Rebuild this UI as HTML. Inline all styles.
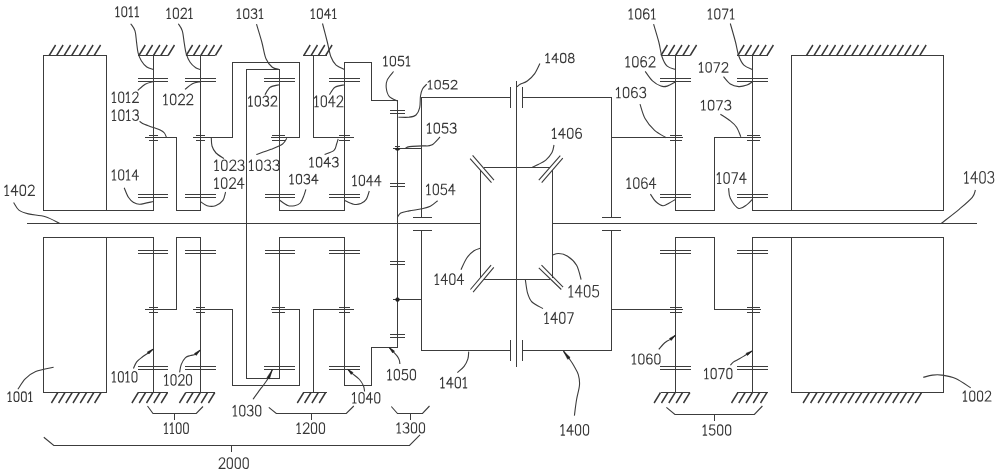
<!DOCTYPE html>
<html lang="en"><head><meta charset="utf-8"><title>Transmission schematic</title><style>
html,body{margin:0;padding:0;background:#fff;font-family:"Liberation Sans",sans-serif;}
svg{display:block;}
.k{fill:none;stroke:#3c3c3c;stroke-width:1;stroke-linecap:square;shape-rendering:crispEdges;}
.d{fill:none;stroke:#3c3c3c;stroke-width:1.1;stroke-linecap:butt;}
.h{fill:none;stroke:#383838;stroke-width:1.45;stroke-linecap:butt;}
.a{fill:#222;stroke:#222;stroke-width:0.6;stroke-linejoin:round;}
.t path{fill:none;stroke:#383838;stroke-width:1.12;vector-effect:non-scaling-stroke;stroke-linecap:round;stroke-linejoin:round;}
</style></head><body>
<svg width="1000" height="476" viewBox="0 0 1000 476">
<path class="k" d="M27.5 223.5H480.5M552.5 223.5H976.5M43.5 55.5H106.5M43.5 55.5V210.5M106.5 55.5V210.5M43.5 210.5H153.5M43.5 392.5H106.5M43.5 237.5V392.5M106.5 237.5V392.5M43.5 237.5H153.5M153.5 55.5V210.5M138.5 78.5H167.5M138.5 81.5H167.5M138.5 194.5H167.5M138.5 197.5H167.5M149.5 135.5H157.5M149.5 140.5H157.5M145.5 137.5H176.5M176.5 137.5V210.5M176.5 210.5H200.5M138.5 55.5H167.5M200.5 55.5V210.5M185.5 78.5H215.5M185.5 81.5H215.5M185.5 194.5H215.5M185.5 197.5H215.5M196.5 135.5H204.5M196.5 140.5H204.5M193.5 137.5H232.5M186.5 55.5H214.5M232.5 62.5V137.5M232.5 62.5H299.5M299.5 62.5V137.5M246.5 69.5H279.5M279.5 69.5V210.5M279.5 210.5H344.5M264.5 78.5H294.5M264.5 81.5H294.5M265.5 194.5H294.5M265.5 197.5H294.5M272.5 135.5H284.5M272.5 140.5H284.5M271.5 137.5H299.5M313.5 55.5V137.5M339.5 135.5H349.5M339.5 140.5H349.5M313.5 137.5H353.5M303.5 55.5H326.5M344.5 62.5V210.5M344.5 62.5H371.5M371.5 62.5V100.5M371.5 100.5H397.5M329.5 78.5H359.5M329.5 81.5H359.5M329.5 194.5H359.5M329.5 197.5H359.5M390.5 110.5H404.5M390.5 113.5H404.5M390.5 183.5H404.5M390.5 186.5H404.5M421.5 97.5H510.5M421.5 97.5V217.5M413.5 217.5H431.5M510.5 87.5V107.5M522.5 87.5V107.5M522.5 97.5H611.5M611.5 97.5V217.5M602.5 217.5H620.5M670.5 135.5H681.5M670.5 140.5H681.5M611.5 137.5H682.5M675.5 55.5V210.5M661.5 55.5H689.5M660.5 78.5H690.5M737.5 78.5H767.5M660.5 81.5H690.5M737.5 81.5H767.5M660.5 194.5H690.5M737.5 194.5H767.5M660.5 197.5H690.5M737.5 197.5H767.5M675.5 210.5H714.5M714.5 137.5V210.5M747.5 135.5H759.5M747.5 140.5H759.5M714.5 137.5H760.5M752.5 55.5V210.5M737.5 55.5H767.5M752.5 210.5H943.5M791.5 55.5V210.5M943.5 55.5V210.5M791.5 55.5H943.5M153.5 237.5V392.5M138.5 366.5H167.5M138.5 369.5H167.5M138.5 250.5H167.5M138.5 253.5H167.5M149.5 307.5H157.5M149.5 312.5H157.5M145.5 309.5H176.5M176.5 237.5V309.5M176.5 237.5H200.5M138.5 392.5H167.5M200.5 237.5V392.5M185.5 366.5H215.5M185.5 369.5H215.5M185.5 250.5H215.5M185.5 253.5H215.5M196.5 307.5H204.5M196.5 312.5H204.5M193.5 309.5H232.5M186.5 392.5H214.5M232.5 309.5V385.5M232.5 385.5H299.5M299.5 309.5V385.5M246.5 378.5H279.5M279.5 237.5V378.5M279.5 237.5H344.5M264.5 366.5H294.5M264.5 369.5H294.5M265.5 250.5H294.5M265.5 253.5H294.5M272.5 307.5H284.5M272.5 312.5H284.5M271.5 309.5H299.5M313.5 309.5V392.5M339.5 307.5H349.5M339.5 312.5H349.5M313.5 309.5H353.5M303.5 392.5H326.5M344.5 237.5V385.5M344.5 385.5H371.5M371.5 347.5V385.5M371.5 347.5H397.5M329.5 366.5H359.5M329.5 369.5H359.5M329.5 250.5H359.5M329.5 253.5H359.5M390.5 334.5H404.5M390.5 337.5H404.5M390.5 261.5H404.5M390.5 264.5H404.5M421.5 350.5H510.5M421.5 230.5V350.5M413.5 230.5H431.5M510.5 340.5V360.5M522.5 340.5V360.5M522.5 350.5H611.5M611.5 230.5V350.5M602.5 230.5H620.5M670.5 307.5H681.5M670.5 312.5H681.5M611.5 309.5H682.5M675.5 237.5V392.5M661.5 392.5H689.5M660.5 366.5H690.5M737.5 366.5H767.5M660.5 369.5H690.5M737.5 369.5H767.5M660.5 250.5H690.5M737.5 250.5H767.5M660.5 253.5H690.5M737.5 253.5H767.5M675.5 237.5H714.5M714.5 237.5V309.5M747.5 307.5H759.5M747.5 312.5H759.5M714.5 309.5H760.5M752.5 237.5V392.5M737.5 392.5H767.5M752.5 237.5H943.5M791.5 237.5V392.5M943.5 237.5V392.5M791.5 392.5H943.5M395.5 146.5H399.5M393.5 148.5H421.5M393.5 299.5H421.5M484.5 167.5H549.5M484.5 279.5H549.5M480.5 170.5V277.5M552.5 170.5V277.5M246.5 69.5V378.5M397.5 100.5V347.5M516.5 81.5V366.5M174.5 413.5V419.5M311.5 413.5V419.5M410.5 413.5V419.5M714.5 414.5V420.5M231.5 445.5V451.5"/>
<path class="d" d="M470.10 158.60L491.50 182.60M472.60 155.30L494.00 180.10M560.30 155.70L538.80 180.10M562.80 158.20L541.70 182.60M470.40 289.50L491.10 265.20M473.10 292.20L493.80 267.40M538.80 267.90L561.30 289.50M541.50 265.20L563.10 287.20M147.50 406.00L153.00 413.50L196.30 413.50L203.00 406.50M268.80 407.30L276.30 413.50L346.30 413.50L353.80 406.00M391.30 406.50L397.50 413.50L422.50 413.50L429.50 406.00M666.40 407.30L674.90 414.50L754.40 414.50L762.40 406.00M43.80 437.30L53.80 445.50L409.50 445.50L420.00 434.80"/>
<path class="h" d="M49.20 55.50L55.60 45.00M56.70 55.50L63.10 45.00M64.20 55.50L70.60 45.00M71.70 55.50L78.10 45.00M79.20 55.50L85.60 45.00M86.70 55.50L93.10 45.00M94.20 55.50L100.60 45.00M51.40 403.00L57.80 392.50M58.60 403.00L65.00 392.50M65.80 403.00L72.20 392.50M73.00 403.00L79.40 392.50M80.20 403.00L86.60 392.50M87.40 403.00L93.80 392.50M94.60 403.00L101.00 392.50M138.90 55.50L145.30 45.00M146.20 55.50L152.60 45.00M153.50 55.50L159.90 45.00M160.80 55.50L167.20 45.00M168.10 55.50L174.50 45.00M186.20 55.50L192.60 45.00M193.50 55.50L199.90 45.00M200.80 55.50L207.20 45.00M208.10 55.50L214.50 45.00M215.40 55.50L221.80 45.00M303.80 55.50L310.20 45.00M311.10 55.50L317.50 45.00M318.40 55.50L324.80 45.00M325.70 55.50L332.10 45.00M661.00 55.50L667.40 45.00M668.30 55.50L674.70 45.00M675.60 55.50L682.00 45.00M682.90 55.50L689.30 45.00M690.20 55.50L696.60 45.00M737.80 55.50L744.20 45.00M745.10 55.50L751.50 45.00M752.40 55.50L758.80 45.00M759.70 55.50L766.10 45.00M767.00 55.50L773.40 45.00M806.50 55.50L812.90 45.00M814.05 55.50L820.45 45.00M821.60 55.50L828.00 45.00M829.15 55.50L835.55 45.00M836.70 55.50L843.10 45.00M844.25 55.50L850.65 45.00M851.80 55.50L858.20 45.00M859.35 55.50L865.75 45.00M866.90 55.50L873.30 45.00M874.45 55.50L880.85 45.00M882.00 55.50L888.40 45.00M889.55 55.50L895.95 45.00M897.10 55.50L903.50 45.00M904.65 55.50L911.05 45.00M912.20 55.50L918.60 45.00M919.75 55.50L926.15 45.00M131.90 403.00L138.30 392.50M139.20 403.00L145.60 392.50M146.50 403.00L152.90 392.50M153.80 403.00L160.20 392.50M161.10 403.00L167.50 392.50M179.40 403.00L185.80 392.50M186.65 403.00L193.05 392.50M193.90 403.00L200.30 392.50M201.15 403.00L207.55 392.50M208.40 403.00L214.80 392.50M297.30 403.00L303.70 392.50M304.60 403.00L311.00 392.50M311.90 403.00L318.30 392.50M319.20 403.00L325.60 392.50M654.10 403.00L660.50 392.50M661.45 403.00L667.85 392.50M668.80 403.00L675.20 392.50M676.15 403.00L682.55 392.50M683.50 403.00L689.90 392.50M731.50 403.00L737.90 392.50M738.75 403.00L745.15 392.50M746.00 403.00L752.40 392.50M753.25 403.00L759.65 392.50M760.50 403.00L766.90 392.50M803.10 403.00L809.50 392.50M810.57 403.00L816.97 392.50M818.04 403.00L824.44 392.50M825.51 403.00L831.91 392.50M832.98 403.00L839.38 392.50M840.45 403.00L846.85 392.50M847.92 403.00L854.32 392.50M855.39 403.00L861.79 392.50M862.86 403.00L869.26 392.50M870.33 403.00L876.73 392.50M877.80 403.00L884.20 392.50M885.27 403.00L891.67 392.50M892.74 403.00L899.14 392.50M900.21 403.00L906.61 392.50M907.68 403.00L914.08 392.50M915.15 403.00L921.55 392.50"/>
<path class="d" d="M130.70 23.70C131.42 24.88 134.02 27.65 135.00 30.80C135.98 33.95 136.08 38.93 136.60 42.60C137.12 46.27 137.32 49.78 138.10 52.80C138.88 55.82 139.85 58.33 141.30 60.70C142.75 63.07 144.83 65.55 146.80 67.00C148.77 68.45 152.05 69.00 153.10 69.40M178.30 23.70C178.97 24.88 181.30 27.52 182.30 30.80C183.30 34.08 183.65 39.60 184.30 43.40C184.95 47.20 185.23 50.45 186.20 53.60C187.17 56.75 188.52 59.93 190.10 62.30C191.68 64.67 194.02 66.62 195.70 67.80C197.38 68.98 199.45 69.13 200.20 69.40M256.50 24.20C257.38 27.17 260.22 36.23 261.80 42.00C263.38 47.77 264.25 54.60 266.00 58.80C267.75 63.00 270.12 65.43 272.30 67.20C274.48 68.97 277.97 69.03 279.10 69.40M322.50 23.50C323.30 26.58 325.90 36.47 327.30 42.00C328.70 47.53 329.43 52.85 330.90 56.70C332.37 60.55 333.82 62.98 336.10 65.10C338.38 67.22 343.18 68.68 344.60 69.40M653.60 24.20C654.47 27.17 657.40 36.58 658.80 42.00C660.20 47.42 660.60 52.67 662.00 56.70C663.40 60.73 664.95 64.08 667.20 66.20C669.45 68.32 674.12 68.87 675.50 69.40M730.30 23.50C731.17 26.58 734.10 36.63 735.50 42.00C736.90 47.37 737.30 51.85 738.70 55.70C740.10 59.55 741.63 62.82 743.90 65.10C746.17 67.38 750.90 68.68 752.30 69.40M137.80 90.50C139.03 89.45 142.62 85.68 145.20 84.20C147.78 82.72 151.95 82.03 153.30 81.60M185.00 89.40C186.23 88.45 189.87 85.00 192.40 83.70C194.93 82.40 198.90 81.95 200.20 81.60M265.00 94.70C265.87 93.47 267.85 88.95 270.20 87.30C272.55 85.65 277.62 85.22 279.10 84.80M329.40 94.70C330.33 93.47 332.47 88.95 335.00 87.30C337.53 85.65 343.00 85.22 344.60 84.80M139.60 121.30C140.10 121.65 141.27 122.70 142.60 123.40C143.93 124.10 145.78 124.80 147.60 125.50C149.42 126.20 151.40 126.83 153.50 127.60C155.60 128.37 158.38 129.20 160.20 130.10C162.02 131.00 163.35 131.75 164.40 133.00C165.45 134.25 166.15 136.83 166.50 137.60M211.30 137.70C211.42 139.08 211.22 143.45 212.00 146.00C212.78 148.55 214.00 150.92 216.00 153.00C218.00 155.08 222.67 157.58 224.00 158.50M256.30 154.50C258.75 153.63 266.62 151.05 271.00 149.30C275.38 147.55 279.97 145.85 282.60 144.00C285.23 142.15 286.10 139.17 286.80 138.20M324.60 154.50C326.17 153.80 332.00 152.05 334.00 150.30C336.00 148.55 335.90 145.92 336.60 144.00C337.30 142.08 337.93 139.67 338.20 138.80M124.20 187.80C124.90 189.38 126.83 194.85 128.40 197.30C129.97 199.75 131.68 201.35 133.60 202.50C135.52 203.65 136.62 204.37 139.90 204.20C143.18 204.03 151.07 201.95 153.30 201.50M225.60 192.00C225.15 193.40 224.58 198.12 222.90 200.40C221.22 202.68 218.13 204.82 215.50 205.70C212.87 206.58 209.65 206.40 207.10 205.70C204.55 205.00 201.35 202.20 200.20 201.50M305.90 189.30C305.58 190.32 304.93 193.12 304.00 195.40C303.07 197.68 301.87 201.28 300.30 203.00C298.73 204.72 296.70 205.28 294.60 205.70C292.50 206.12 290.28 206.48 287.70 205.50C285.12 204.52 280.53 200.75 279.10 199.80M369.30 191.00C368.78 192.40 367.60 197.30 366.20 199.40C364.80 201.50 363.00 202.80 360.90 203.60C358.80 204.40 356.32 204.73 353.60 204.20C350.88 203.67 346.10 201.03 344.60 200.40M393.60 71.50C392.55 72.90 388.52 77.10 387.30 79.90C386.08 82.70 385.95 85.50 386.30 88.30C386.65 91.10 387.53 94.60 389.40 96.70C391.27 98.80 396.15 100.20 397.50 100.90M426.80 84.10C426.08 84.92 423.55 87.02 422.50 89.00C421.45 90.98 420.97 92.90 420.50 96.00C420.03 99.10 420.45 104.43 419.70 107.60C418.95 110.77 417.78 113.40 416.00 115.00C414.22 116.60 411.93 116.83 409.00 117.20C406.07 117.57 400.17 117.20 398.40 117.20M440.00 137.00C438.58 138.35 434.40 143.62 431.50 145.10C428.60 146.58 426.28 145.65 422.60 145.90C418.92 146.15 412.33 146.17 409.40 146.60C406.47 147.03 405.73 148.18 405.00 148.50M437.60 200.80C436.38 201.72 432.93 204.97 430.30 206.30C427.67 207.63 425.32 208.03 421.80 208.80C418.28 209.57 412.70 210.20 409.20 210.90C405.70 211.60 402.72 212.02 400.80 213.00C398.88 213.98 398.22 216.17 397.70 216.80M539.90 63.50C539.03 65.18 536.80 70.68 534.70 73.60C532.60 76.52 529.72 79.23 527.30 81.00C524.88 82.77 521.92 83.23 520.20 84.20C518.48 85.17 517.53 86.37 517.00 86.80M554.00 145.00C553.67 146.27 553.37 150.08 552.00 152.60C550.63 155.12 548.10 158.12 545.80 160.10C543.50 162.08 540.52 163.28 538.20 164.50C535.88 165.72 532.95 166.92 531.90 167.40M645.20 71.40C646.42 72.98 649.88 78.45 652.50 80.90C655.12 83.35 658.45 85.23 660.90 86.10C663.35 86.97 664.77 86.80 667.20 86.10C669.63 85.40 674.12 82.60 675.50 81.90M723.50 76.70C724.63 77.92 727.77 82.35 730.30 84.00C732.83 85.65 735.92 86.42 738.70 86.60C741.48 86.78 744.73 85.88 747.00 85.10C749.27 84.32 751.42 82.43 752.30 81.90M640.00 104.10C640.87 106.55 642.77 114.42 645.20 118.80C647.63 123.18 651.10 127.25 654.60 130.40C658.10 133.55 664.27 136.48 666.20 137.70M720.40 114.20C722.05 115.32 727.60 118.73 730.30 120.90C733.00 123.07 734.85 124.57 736.60 127.20C738.35 129.83 740.10 135.12 740.80 136.70M650.40 194.10C651.28 195.33 653.60 199.57 655.70 201.50C657.80 203.43 660.73 205.47 663.00 205.70C665.27 205.93 667.22 203.95 669.30 202.90C671.38 201.85 674.47 199.98 675.50 199.40M728.60 188.20C728.88 189.88 728.62 194.93 730.30 198.30C731.98 201.67 735.92 207.35 738.70 208.40C741.48 209.45 744.73 206.10 747.00 204.60C749.27 203.10 751.42 200.27 752.30 199.40M975.40 190.00C974.88 191.22 974.92 194.17 972.30 197.30C969.68 200.43 964.88 204.43 959.70 208.80C954.52 213.17 944.28 221.05 941.20 223.50M13.60 202.50C14.48 203.77 16.43 208.20 18.90 210.10C21.37 212.00 23.98 212.80 28.40 213.90C32.82 215.00 40.22 215.13 45.40 216.70C50.58 218.27 57.15 222.20 59.50 223.30M461.00 269.70C461.97 267.75 464.63 261.15 466.80 258.00C468.97 254.85 471.67 252.45 474.00 250.80C476.33 249.15 479.67 248.55 480.80 248.10M581.10 279.60C580.35 277.20 578.85 269.10 576.60 265.20C574.35 261.30 570.60 258.15 567.60 256.20C564.60 254.25 561.17 253.65 558.60 253.50C556.03 253.35 553.27 255.00 552.20 255.30M525.40 280.00C525.77 282.20 526.50 289.53 527.60 293.20C528.70 296.87 529.43 299.43 532.00 302.00C534.57 304.57 541.17 307.50 543.00 308.60M468.70 351.60C468.57 352.82 468.67 356.45 467.90 358.90C467.13 361.35 465.85 364.02 464.10 366.30C462.35 368.58 458.52 371.55 457.40 372.60M574.40 415.60C574.75 413.00 575.65 405.10 576.50 400.00C577.35 394.90 579.20 389.23 579.50 385.00C579.80 380.77 579.22 377.77 578.30 374.60C577.38 371.43 575.38 368.47 574.00 366.00C572.62 363.53 571.75 362.27 570.00 359.80C568.25 357.33 564.58 352.63 563.50 351.20M17.90 389.30C19.12 387.55 22.23 381.77 25.20 378.80C28.17 375.83 30.97 373.42 35.70 371.50C40.43 369.58 50.62 368.00 53.60 367.30M133.40 368.60C133.95 367.47 135.17 363.77 136.70 361.80C138.23 359.83 140.70 358.27 142.60 356.80C144.50 355.33 146.32 354.28 148.10 353.00C149.88 351.72 152.43 349.75 153.30 349.10M179.60 372.40C179.88 371.07 180.32 366.87 181.30 364.40C182.28 361.93 183.97 359.08 185.50 357.60C187.03 356.12 188.83 356.05 190.50 355.50C192.17 354.95 193.88 355.20 195.50 354.30C197.12 353.40 199.42 350.80 200.20 350.10M253.00 399.30C254.17 397.68 258.30 391.90 260.00 389.60C261.70 387.30 261.83 387.38 263.20 385.50C264.57 383.62 266.68 380.93 268.20 378.30C269.72 375.67 271.62 371.13 272.30 369.70M364.60 391.50C364.42 390.58 364.35 388.00 363.50 386.00C362.65 384.00 361.42 381.60 359.50 379.50C357.58 377.40 353.95 375.10 352.00 373.40C350.05 371.70 348.50 369.98 347.80 369.30M399.90 364.00C399.80 363.37 399.72 361.47 399.30 360.20C398.88 358.93 398.35 357.77 397.40 356.40C396.45 355.03 394.97 353.47 393.60 352.00C392.23 350.53 389.93 348.33 389.20 347.60M658.80 349.30C659.50 348.50 661.72 345.80 663.00 344.50C664.28 343.20 665.27 342.35 666.50 341.50C667.73 340.65 668.90 340.45 670.40 339.40C671.90 338.35 674.65 335.90 675.50 335.20M730.30 365.20C730.85 364.65 732.32 362.85 733.60 361.90C734.88 360.95 736.35 360.42 738.00 359.50C739.65 358.58 741.85 357.37 743.50 356.40C745.15 355.43 746.43 354.62 747.90 353.70C749.37 352.78 751.57 351.37 752.30 350.90M923.30 377.40C924.83 377.02 929.42 375.48 932.50 375.10C935.58 374.72 937.95 374.53 941.80 375.10C945.65 375.67 950.78 376.38 955.60 378.50C960.42 380.62 968.18 386.25 970.70 387.80"/>
<path class="a" d="M395.3 149.2a2.2 1.1 0 1 0 4.4 0a2.2 1.1 0 1 0 -4.4 0ZM395.6 299.6a1.9 1.9 0 1 0 3.8 0a1.9 1.9 0 1 0 -3.8 0ZM563.50 351.20L570.12 357.48L567.73 359.28ZM153.30 349.10L148.88 354.04L147.32 351.96ZM200.20 350.10L196.22 355.40L194.49 353.46ZM272.30 369.70L269.48 378.88L266.95 377.67ZM347.80 369.30L353.00 372.56L351.19 374.42ZM389.20 347.60L394.50 351.06L392.66 352.90ZM675.50 335.20L671.15 340.46L669.50 338.46ZM752.30 350.90L747.51 355.49L746.12 353.29Z"/>
<g class="t">
<g role="img" aria-label="1011" transform="translate(114.60,6.75) scale(0.9225,0.9000)"><title>1011</title><path transform="translate(-0.25,0)" d="M1.4,2.3 L3.5,0 L3.5,11 M1.8,11 L5.2,11"/><path transform="translate(7.00,0)" d="M0.9,3.2 C0.9,1.2 2,0 3.5,0 C5,0 6.1,1.2 6.1,3.2 L6.1,7.8 C6.1,9.8 5,11 3.5,11 C2,11 0.9,9.8 0.9,7.8 Z"/><path transform="translate(14.25,0)" d="M1.4,2.3 L3.5,0 L3.5,11 M1.8,11 L5.2,11"/><path transform="translate(20.75,0)" d="M1.4,2.3 L3.5,0 L3.5,11 M1.8,11 L5.2,11"/></g>
<g role="img" aria-label="1021" transform="translate(165.67,8.17) scale(0.9707,0.9333)"><title>1021</title><path transform="translate(-0.25,0)" d="M1.4,2.3 L3.5,0 L3.5,11 M1.8,11 L5.2,11"/><path transform="translate(7.00,0)" d="M0.9,3.2 C0.9,1.2 2,0 3.5,0 C5,0 6.1,1.2 6.1,3.2 L6.1,7.8 C6.1,9.8 5,11 3.5,11 C2,11 0.9,9.8 0.9,7.8 Z"/><path transform="translate(15.00,0)" d="M0.8,2.3 C1.3,0.8 2.3,0 3.6,0 C5.2,0 6.3,1.1 6.3,2.8 C6.3,4.2 5.6,5.2 4.5,6.3 L0.6,10.9 L6.7,10.9"/><path transform="translate(22.25,0)" d="M1.4,2.3 L3.5,0 L3.5,11 M1.8,11 L5.2,11"/></g>
<g role="img" aria-label="1031" transform="translate(235.86,8.84) scale(0.9853,0.8750)"><title>1031</title><path transform="translate(-0.25,0)" d="M1.4,2.3 L3.5,0 L3.5,11 M1.8,11 L5.2,11"/><path transform="translate(7.00,0)" d="M0.9,3.2 C0.9,1.2 2,0 3.5,0 C5,0 6.1,1.2 6.1,3.2 L6.1,7.8 C6.1,9.8 5,11 3.5,11 C2,11 0.9,9.8 0.9,7.8 Z"/><path transform="translate(15.00,0)" d="M0.8,1.8 C1.4,0.6 2.4,0 3.5,0 C5,0 6,1 6,2.6 C6,4.2 4.9,5.2 3.2,5.2 M3.2,5.2 C5.1,5.2 6.3,6.3 6.3,8 C6.3,9.9 5.1,11 3.4,11 C2.1,11 1,10.4 0.5,9.2"/><path transform="translate(22.25,0)" d="M1.4,2.3 L3.5,0 L3.5,11 M1.8,11 L5.2,11"/></g>
<g role="img" aria-label="1041" transform="translate(309.88,8.84) scale(0.9560,0.8750)"><title>1041</title><path transform="translate(-0.25,0)" d="M1.4,2.3 L3.5,0 L3.5,11 M1.8,11 L5.2,11"/><path transform="translate(7.00,0)" d="M0.9,3.2 C0.9,1.2 2,0 3.5,0 C5,0 6.1,1.2 6.1,3.2 L6.1,7.8 C6.1,9.8 5,11 3.5,11 C2,11 0.9,9.8 0.9,7.8 Z"/><path transform="translate(15.00,0)" d="M4.6,11 L4.6,0 L0.3,6.9 L6.7,6.9"/><path transform="translate(22.25,0)" d="M1.4,2.3 L3.5,0 L3.5,11 M1.8,11 L5.2,11"/></g>
<g role="img" aria-label="1061" transform="translate(627.75,8.86) scale(1.0000,0.9250)"><title>1061</title><path transform="translate(-0.25,0)" d="M1.4,2.3 L3.5,0 L3.5,11 M1.8,11 L5.2,11"/><path transform="translate(7.00,0)" d="M0.9,3.2 C0.9,1.2 2,0 3.5,0 C5,0 6.1,1.2 6.1,3.2 L6.1,7.8 C6.1,9.8 5,11 3.5,11 C2,11 0.9,9.8 0.9,7.8 Z"/><path transform="translate(15.00,0)" d="M5.8,1.5 C5.3,0.5 4.5,0 3.6,0 C1.8,0 0.8,2.3 0.8,5.8 C0.8,9.2 1.9,11 3.6,11 C5.3,11 6.3,9.6 6.3,7.6 C6.3,5.6 5.2,4.4 3.6,4.4 C2.2,4.4 1.2,5.3 0.8,6.6"/><path transform="translate(22.25,0)" d="M1.4,2.3 L3.5,0 L3.5,11 M1.8,11 L5.2,11"/></g>
<g role="img" aria-label="1071" transform="translate(706.96,8.86) scale(0.9853,0.9250)"><title>1071</title><path transform="translate(-0.25,0)" d="M1.4,2.3 L3.5,0 L3.5,11 M1.8,11 L5.2,11"/><path transform="translate(7.00,0)" d="M0.9,3.2 C0.9,1.2 2,0 3.5,0 C5,0 6.1,1.2 6.1,3.2 L6.1,7.8 C6.1,9.8 5,11 3.5,11 C2,11 0.9,9.8 0.9,7.8 Z"/><path transform="translate(15.00,0)" d="M0.7,0.3 L6.3,0.3 L2.3,11"/><path transform="translate(22.25,0)" d="M1.4,2.3 L3.5,0 L3.5,11 M1.8,11 L5.2,11"/></g>
<g role="img" aria-label="1051" transform="translate(382.35,56.24) scale(1.0037,0.8750)"><title>1051</title><path transform="translate(-0.25,0)" d="M1.4,2.3 L3.5,0 L3.5,11 M1.8,11 L5.2,11"/><path transform="translate(7.00,0)" d="M0.9,3.2 C0.9,1.2 2,0 3.5,0 C5,0 6.1,1.2 6.1,3.2 L6.1,7.8 C6.1,9.8 5,11 3.5,11 C2,11 0.9,9.8 0.9,7.8 Z"/><path transform="translate(15.00,0)" d="M6,0.2 L1.5,0.2 L1,5 C1.7,4.4 2.6,4.1 3.5,4.1 C5.2,4.1 6.3,5.4 6.3,7.5 C6.3,9.7 5.1,11 3.4,11 C2.1,11 1.1,10.4 0.6,9.3"/><path transform="translate(22.25,0)" d="M1.4,2.3 L3.5,0 L3.5,11 M1.8,11 L5.2,11"/></g>
<g role="img" aria-label="1052" transform="translate(426.94,80.39) scale(1.0186,0.7833)"><title>1052</title><path transform="translate(-0.25,0)" d="M1.4,2.3 L3.5,0 L3.5,11 M1.8,11 L5.2,11"/><path transform="translate(7.00,0)" d="M0.9,3.2 C0.9,1.2 2,0 3.5,0 C5,0 6.1,1.2 6.1,3.2 L6.1,7.8 C6.1,9.8 5,11 3.5,11 C2,11 0.9,9.8 0.9,7.8 Z"/><path transform="translate(15.00,0)" d="M6,0.2 L1.5,0.2 L1,5 C1.7,4.4 2.6,4.1 3.5,4.1 C5.2,4.1 6.3,5.4 6.3,7.5 C6.3,9.7 5.1,11 3.4,11 C2.1,11 1.1,10.4 0.6,9.3"/><path transform="translate(23.00,0)" d="M0.8,2.3 C1.3,0.8 2.3,0 3.6,0 C5.2,0 6.3,1.1 6.3,2.8 C6.3,4.2 5.6,5.2 4.5,6.3 L0.6,10.9 L6.7,10.9"/></g>
<g role="img" aria-label="1408" transform="translate(544.54,53.42) scale(1.0086,0.8417)"><title>1408</title><path transform="translate(-0.25,0)" d="M1.4,2.3 L3.5,0 L3.5,11 M1.8,11 L5.2,11"/><path transform="translate(7.00,0)" d="M4.6,11 L4.6,0 L0.3,6.9 L6.7,6.9"/><path transform="translate(15.00,0)" d="M0.9,3.2 C0.9,1.2 2,0 3.5,0 C5,0 6.1,1.2 6.1,3.2 L6.1,7.8 C6.1,9.8 5,11 3.5,11 C2,11 0.9,9.8 0.9,7.8 Z"/><path transform="translate(23.00,0)" d="M3.5,0 C2,0 1.1,1.1 1.1,2.6 C1.1,4.1 2.1,5.2 3.5,5.2 C4.9,5.2 5.9,4.1 5.9,2.6 C5.9,1.1 5,0 3.5,0 Z M3.5,5.2 C1.8,5.2 0.7,6.4 0.7,8.1 C0.7,9.8 1.8,11 3.5,11 C5.2,11 6.3,9.8 6.3,8.1 C6.3,6.4 5.2,5.2 3.5,5.2 Z"/></g>
<g role="img" aria-label="1062" transform="translate(624.53,56.48) scale(1.0321,0.9500)"><title>1062</title><path transform="translate(-0.25,0)" d="M1.4,2.3 L3.5,0 L3.5,11 M1.8,11 L5.2,11"/><path transform="translate(7.00,0)" d="M0.9,3.2 C0.9,1.2 2,0 3.5,0 C5,0 6.1,1.2 6.1,3.2 L6.1,7.8 C6.1,9.8 5,11 3.5,11 C2,11 0.9,9.8 0.9,7.8 Z"/><path transform="translate(15.00,0)" d="M5.8,1.5 C5.3,0.5 4.5,0 3.6,0 C1.8,0 0.8,2.3 0.8,5.8 C0.8,9.2 1.9,11 3.6,11 C5.3,11 6.3,9.6 6.3,7.6 C6.3,5.6 5.2,4.4 3.6,4.4 C2.2,4.4 1.2,5.3 0.8,6.6"/><path transform="translate(23.00,0)" d="M0.8,2.3 C1.3,0.8 2.3,0 3.6,0 C5.2,0 6.3,1.1 6.3,2.8 C6.3,4.2 5.6,5.2 4.5,6.3 L0.6,10.9 L6.7,10.9"/></g>
<g role="img" aria-label="1072" transform="translate(698.04,62.44) scale(1.0118,0.8833)"><title>1072</title><path transform="translate(-0.25,0)" d="M1.4,2.3 L3.5,0 L3.5,11 M1.8,11 L5.2,11"/><path transform="translate(7.00,0)" d="M0.9,3.2 C0.9,1.2 2,0 3.5,0 C5,0 6.1,1.2 6.1,3.2 L6.1,7.8 C6.1,9.8 5,11 3.5,11 C2,11 0.9,9.8 0.9,7.8 Z"/><path transform="translate(15.00,0)" d="M0.7,0.3 L6.3,0.3 L2.3,11"/><path transform="translate(23.00,0)" d="M0.8,2.3 C1.3,0.8 2.3,0 3.6,0 C5.2,0 6.3,1.1 6.3,2.8 C6.3,4.2 5.6,5.2 4.5,6.3 L0.6,10.9 L6.7,10.9"/></g>
<g role="img" aria-label="1063" transform="translate(615.12,87.37) scale(1.0429,0.9417)"><title>1063</title><path transform="translate(-0.25,0)" d="M1.4,2.3 L3.5,0 L3.5,11 M1.8,11 L5.2,11"/><path transform="translate(7.00,0)" d="M0.9,3.2 C0.9,1.2 2,0 3.5,0 C5,0 6.1,1.2 6.1,3.2 L6.1,7.8 C6.1,9.8 5,11 3.5,11 C2,11 0.9,9.8 0.9,7.8 Z"/><path transform="translate(15.00,0)" d="M5.8,1.5 C5.3,0.5 4.5,0 3.6,0 C1.8,0 0.8,2.3 0.8,5.8 C0.8,9.2 1.9,11 3.6,11 C5.3,11 6.3,9.6 6.3,7.6 C6.3,5.6 5.2,4.4 3.6,4.4 C2.2,4.4 1.2,5.3 0.8,6.6"/><path transform="translate(23.00,0)" d="M0.8,1.8 C1.4,0.6 2.4,0 3.5,0 C5,0 6,1 6,2.6 C6,4.2 4.9,5.2 3.2,5.2 M3.2,5.2 C5.1,5.2 6.3,6.3 6.3,8 C6.3,9.9 5.1,11 3.4,11 C2.1,11 1,10.4 0.5,9.2"/></g>
<g role="img" aria-label="1073" transform="translate(700.12,100.43) scale(1.0463,0.8667)"><title>1073</title><path transform="translate(-0.25,0)" d="M1.4,2.3 L3.5,0 L3.5,11 M1.8,11 L5.2,11"/><path transform="translate(7.00,0)" d="M0.9,3.2 C0.9,1.2 2,0 3.5,0 C5,0 6.1,1.2 6.1,3.2 L6.1,7.8 C6.1,9.8 5,11 3.5,11 C2,11 0.9,9.8 0.9,7.8 Z"/><path transform="translate(15.00,0)" d="M0.7,0.3 L6.3,0.3 L2.3,11"/><path transform="translate(23.00,0)" d="M0.8,1.8 C1.4,0.6 2.4,0 3.5,0 C5,0 6,1 6,2.6 C6,4.2 4.9,5.2 3.2,5.2 M3.2,5.2 C5.1,5.2 6.3,6.3 6.3,8 C6.3,9.9 5.1,11 3.4,11 C2.1,11 1,10.4 0.5,9.2"/></g>
<g role="img" aria-label="1012" transform="translate(110.97,91.98) scale(0.9733,0.9583)"><title>1012</title><path transform="translate(-0.25,0)" d="M1.4,2.3 L3.5,0 L3.5,11 M1.8,11 L5.2,11"/><path transform="translate(7.00,0)" d="M0.9,3.2 C0.9,1.2 2,0 3.5,0 C5,0 6.1,1.2 6.1,3.2 L6.1,7.8 C6.1,9.8 5,11 3.5,11 C2,11 0.9,9.8 0.9,7.8 Z"/><path transform="translate(14.25,0)" d="M1.4,2.3 L3.5,0 L3.5,11 M1.8,11 L5.2,11"/><path transform="translate(21.50,0)" d="M0.8,2.3 C1.3,0.8 2.3,0 3.6,0 C5.2,0 6.3,1.1 6.3,2.8 C6.3,4.2 5.6,5.2 4.5,6.3 L0.6,10.9 L6.7,10.9"/></g>
<g role="img" aria-label="1013" transform="translate(110.96,109.88) scale(0.9873,0.9667)"><title>1013</title><path transform="translate(-0.25,0)" d="M1.4,2.3 L3.5,0 L3.5,11 M1.8,11 L5.2,11"/><path transform="translate(7.00,0)" d="M0.9,3.2 C0.9,1.2 2,0 3.5,0 C5,0 6.1,1.2 6.1,3.2 L6.1,7.8 C6.1,9.8 5,11 3.5,11 C2,11 0.9,9.8 0.9,7.8 Z"/><path transform="translate(14.25,0)" d="M1.4,2.3 L3.5,0 L3.5,11 M1.8,11 L5.2,11"/><path transform="translate(21.50,0)" d="M0.8,1.8 C1.4,0.6 2.4,0 3.5,0 C5,0 6,1 6,2.6 C6,4.2 4.9,5.2 3.2,5.2 M3.2,5.2 C5.1,5.2 6.3,6.3 6.3,8 C6.3,9.9 5.1,11 3.4,11 C2.1,11 1,10.4 0.5,9.2"/></g>
<g role="img" aria-label="1022" transform="translate(162.33,94.08) scale(1.0321,0.9667)"><title>1022</title><path transform="translate(-0.25,0)" d="M1.4,2.3 L3.5,0 L3.5,11 M1.8,11 L5.2,11"/><path transform="translate(7.00,0)" d="M0.9,3.2 C0.9,1.2 2,0 3.5,0 C5,0 6.1,1.2 6.1,3.2 L6.1,7.8 C6.1,9.8 5,11 3.5,11 C2,11 0.9,9.8 0.9,7.8 Z"/><path transform="translate(15.00,0)" d="M0.8,2.3 C1.3,0.8 2.3,0 3.6,0 C5.2,0 6.3,1.1 6.3,2.8 C6.3,4.2 5.6,5.2 4.5,6.3 L0.6,10.9 L6.7,10.9"/><path transform="translate(23.00,0)" d="M0.8,2.3 C1.3,0.8 2.3,0 3.6,0 C5.2,0 6.3,1.1 6.3,2.8 C6.3,4.2 5.6,5.2 4.5,6.3 L0.6,10.9 L6.7,10.9"/></g>
<g role="img" aria-label="1032" transform="translate(247.35,96.15) scale(0.9983,0.9083)"><title>1032</title><path transform="translate(-0.25,0)" d="M1.4,2.3 L3.5,0 L3.5,11 M1.8,11 L5.2,11"/><path transform="translate(7.00,0)" d="M0.9,3.2 C0.9,1.2 2,0 3.5,0 C5,0 6.1,1.2 6.1,3.2 L6.1,7.8 C6.1,9.8 5,11 3.5,11 C2,11 0.9,9.8 0.9,7.8 Z"/><path transform="translate(15.00,0)" d="M0.8,1.8 C1.4,0.6 2.4,0 3.5,0 C5,0 6,1 6,2.6 C6,4.2 4.9,5.2 3.2,5.2 M3.2,5.2 C5.1,5.2 6.3,6.3 6.3,8 C6.3,9.9 5.1,11 3.4,11 C2.1,11 1,10.4 0.5,9.2"/><path transform="translate(23.00,0)" d="M0.8,2.3 C1.3,0.8 2.3,0 3.6,0 C5.2,0 6.3,1.1 6.3,2.8 C6.3,4.2 5.6,5.2 4.5,6.3 L0.6,10.9 L6.7,10.9"/></g>
<g role="img" aria-label="1042" transform="translate(313.35,95.80) scale(0.9983,1.0000)"><title>1042</title><path transform="translate(-0.25,0)" d="M1.4,2.3 L3.5,0 L3.5,11 M1.8,11 L5.2,11"/><path transform="translate(7.00,0)" d="M0.9,3.2 C0.9,1.2 2,0 3.5,0 C5,0 6.1,1.2 6.1,3.2 L6.1,7.8 C6.1,9.8 5,11 3.5,11 C2,11 0.9,9.8 0.9,7.8 Z"/><path transform="translate(15.00,0)" d="M4.6,11 L4.6,0 L0.3,6.9 L6.7,6.9"/><path transform="translate(23.00,0)" d="M0.8,2.3 C1.3,0.8 2.3,0 3.6,0 C5.2,0 6.3,1.1 6.3,2.8 C6.3,4.2 5.6,5.2 4.5,6.3 L0.6,10.9 L6.7,10.9"/></g>
<g role="img" aria-label="1053" transform="translate(426.03,123.15) scale(1.0257,0.9083)"><title>1053</title><path transform="translate(-0.25,0)" d="M1.4,2.3 L3.5,0 L3.5,11 M1.8,11 L5.2,11"/><path transform="translate(7.00,0)" d="M0.9,3.2 C0.9,1.2 2,0 3.5,0 C5,0 6.1,1.2 6.1,3.2 L6.1,7.8 C6.1,9.8 5,11 3.5,11 C2,11 0.9,9.8 0.9,7.8 Z"/><path transform="translate(15.00,0)" d="M6,0.2 L1.5,0.2 L1,5 C1.7,4.4 2.6,4.1 3.5,4.1 C5.2,4.1 6.3,5.4 6.3,7.5 C6.3,9.7 5.1,11 3.4,11 C2.1,11 1.1,10.4 0.6,9.3"/><path transform="translate(23.00,0)" d="M0.8,1.8 C1.4,0.6 2.4,0 3.5,0 C5,0 6,1 6,2.6 C6,4.2 4.9,5.2 3.2,5.2 M3.2,5.2 C5.1,5.2 6.3,6.3 6.3,8 C6.3,9.9 5.1,11 3.4,11 C2.1,11 1,10.4 0.5,9.2"/></g>
<g role="img" aria-label="1406" transform="translate(551.02,128.26) scale(1.0395,0.9167)"><title>1406</title><path transform="translate(-0.25,0)" d="M1.4,2.3 L3.5,0 L3.5,11 M1.8,11 L5.2,11"/><path transform="translate(7.00,0)" d="M4.6,11 L4.6,0 L0.3,6.9 L6.7,6.9"/><path transform="translate(15.00,0)" d="M0.9,3.2 C0.9,1.2 2,0 3.5,0 C5,0 6.1,1.2 6.1,3.2 L6.1,7.8 C6.1,9.8 5,11 3.5,11 C2,11 0.9,9.8 0.9,7.8 Z"/><path transform="translate(23.00,0)" d="M5.8,1.5 C5.3,0.5 4.5,0 3.6,0 C1.8,0 0.8,2.3 0.8,5.8 C0.8,9.2 1.9,11 3.6,11 C5.3,11 6.3,9.6 6.3,7.6 C6.3,5.6 5.2,4.4 3.6,4.4 C2.2,4.4 1.2,5.3 0.8,6.6"/></g>
<g role="img" aria-label="1023" transform="translate(213.32,159.98) scale(1.0463,0.9583)"><title>1023</title><path transform="translate(-0.25,0)" d="M1.4,2.3 L3.5,0 L3.5,11 M1.8,11 L5.2,11"/><path transform="translate(7.00,0)" d="M0.9,3.2 C0.9,1.2 2,0 3.5,0 C5,0 6.1,1.2 6.1,3.2 L6.1,7.8 C6.1,9.8 5,11 3.5,11 C2,11 0.9,9.8 0.9,7.8 Z"/><path transform="translate(15.00,0)" d="M0.8,2.3 C1.3,0.8 2.3,0 3.6,0 C5.2,0 6.3,1.1 6.3,2.8 C6.3,4.2 5.6,5.2 4.5,6.3 L0.6,10.9 L6.7,10.9"/><path transform="translate(23.00,0)" d="M0.8,1.8 C1.4,0.6 2.4,0 3.5,0 C5,0 6,1 6,2.6 C6,4.2 4.9,5.2 3.2,5.2 M3.2,5.2 C5.1,5.2 6.3,6.3 6.3,8 C6.3,9.9 5.1,11 3.4,11 C2.1,11 1,10.4 0.5,9.2"/></g>
<g role="img" aria-label="1033" transform="translate(248.01,159.98) scale(1.0600,0.9583)"><title>1033</title><path transform="translate(-0.25,0)" d="M1.4,2.3 L3.5,0 L3.5,11 M1.8,11 L5.2,11"/><path transform="translate(7.00,0)" d="M0.9,3.2 C0.9,1.2 2,0 3.5,0 C5,0 6.1,1.2 6.1,3.2 L6.1,7.8 C6.1,9.8 5,11 3.5,11 C2,11 0.9,9.8 0.9,7.8 Z"/><path transform="translate(15.00,0)" d="M0.8,1.8 C1.4,0.6 2.4,0 3.5,0 C5,0 6,1 6,2.6 C6,4.2 4.9,5.2 3.2,5.2 M3.2,5.2 C5.1,5.2 6.3,6.3 6.3,8 C6.3,9.9 5.1,11 3.4,11 C2.1,11 1,10.4 0.5,9.2"/><path transform="translate(23.00,0)" d="M0.8,1.8 C1.4,0.6 2.4,0 3.5,0 C5,0 6,1 6,2.6 C6,4.2 4.9,5.2 3.2,5.2 M3.2,5.2 C5.1,5.2 6.3,6.3 6.3,8 C6.3,9.9 5.1,11 3.4,11 C2.1,11 1,10.4 0.5,9.2"/></g>
<g role="img" aria-label="1043" transform="translate(308.44,157.34) scale(1.0154,0.8750)"><title>1043</title><path transform="translate(-0.25,0)" d="M1.4,2.3 L3.5,0 L3.5,11 M1.8,11 L5.2,11"/><path transform="translate(7.00,0)" d="M0.9,3.2 C0.9,1.2 2,0 3.5,0 C5,0 6.1,1.2 6.1,3.2 L6.1,7.8 C6.1,9.8 5,11 3.5,11 C2,11 0.9,9.8 0.9,7.8 Z"/><path transform="translate(15.00,0)" d="M4.6,11 L4.6,0 L0.3,6.9 L6.7,6.9"/><path transform="translate(23.00,0)" d="M0.8,1.8 C1.4,0.6 2.4,0 3.5,0 C5,0 6,1 6,2.6 C6,4.2 4.9,5.2 3.2,5.2 M3.2,5.2 C5.1,5.2 6.3,6.3 6.3,8 C6.3,9.9 5.1,11 3.4,11 C2.1,11 1,10.4 0.5,9.2"/></g>
<g role="img" aria-label="1014" transform="translate(110.97,169.77) scale(0.9733,0.9333)"><title>1014</title><path transform="translate(-0.25,0)" d="M1.4,2.3 L3.5,0 L3.5,11 M1.8,11 L5.2,11"/><path transform="translate(7.00,0)" d="M0.9,3.2 C0.9,1.2 2,0 3.5,0 C5,0 6.1,1.2 6.1,3.2 L6.1,7.8 C6.1,9.8 5,11 3.5,11 C2,11 0.9,9.8 0.9,7.8 Z"/><path transform="translate(14.25,0)" d="M1.4,2.3 L3.5,0 L3.5,11 M1.8,11 L5.2,11"/><path transform="translate(21.50,0)" d="M4.6,11 L4.6,0 L0.3,6.9 L6.7,6.9"/></g>
<g role="img" aria-label="1024" transform="translate(213.33,177.78) scale(1.0321,0.9667)"><title>1024</title><path transform="translate(-0.25,0)" d="M1.4,2.3 L3.5,0 L3.5,11 M1.8,11 L5.2,11"/><path transform="translate(7.00,0)" d="M0.9,3.2 C0.9,1.2 2,0 3.5,0 C5,0 6.1,1.2 6.1,3.2 L6.1,7.8 C6.1,9.8 5,11 3.5,11 C2,11 0.9,9.8 0.9,7.8 Z"/><path transform="translate(15.00,0)" d="M0.8,2.3 C1.3,0.8 2.3,0 3.6,0 C5.2,0 6.3,1.1 6.3,2.8 C6.3,4.2 5.6,5.2 4.5,6.3 L0.6,10.9 L6.7,10.9"/><path transform="translate(23.00,0)" d="M4.6,11 L4.6,0 L0.3,6.9 L6.7,6.9"/></g>
<g role="img" aria-label="1034" transform="translate(288.56,174.43) scale(0.9915,0.8583)"><title>1034</title><path transform="translate(-0.25,0)" d="M1.4,2.3 L3.5,0 L3.5,11 M1.8,11 L5.2,11"/><path transform="translate(7.00,0)" d="M0.9,3.2 C0.9,1.2 2,0 3.5,0 C5,0 6.1,1.2 6.1,3.2 L6.1,7.8 C6.1,9.8 5,11 3.5,11 C2,11 0.9,9.8 0.9,7.8 Z"/><path transform="translate(15.00,0)" d="M0.8,1.8 C1.4,0.6 2.4,0 3.5,0 C5,0 6,1 6,2.6 C6,4.2 4.9,5.2 3.2,5.2 M3.2,5.2 C5.1,5.2 6.3,6.3 6.3,8 C6.3,9.9 5.1,11 3.4,11 C2.1,11 1,10.4 0.5,9.2"/><path transform="translate(23.00,0)" d="M4.6,11 L4.6,0 L0.3,6.9 L6.7,6.9"/></g>
<g role="img" aria-label="1044" transform="translate(351.45,175.27) scale(0.9949,0.9417)"><title>1044</title><path transform="translate(-0.25,0)" d="M1.4,2.3 L3.5,0 L3.5,11 M1.8,11 L5.2,11"/><path transform="translate(7.00,0)" d="M0.9,3.2 C0.9,1.2 2,0 3.5,0 C5,0 6.1,1.2 6.1,3.2 L6.1,7.8 C6.1,9.8 5,11 3.5,11 C2,11 0.9,9.8 0.9,7.8 Z"/><path transform="translate(15.00,0)" d="M4.6,11 L4.6,0 L0.3,6.9 L6.7,6.9"/><path transform="translate(23.00,0)" d="M4.6,11 L4.6,0 L0.3,6.9 L6.7,6.9"/></g>
<g role="img" aria-label="1054" transform="translate(425.35,184.08) scale(0.9983,0.9667)"><title>1054</title><path transform="translate(-0.25,0)" d="M1.4,2.3 L3.5,0 L3.5,11 M1.8,11 L5.2,11"/><path transform="translate(7.00,0)" d="M0.9,3.2 C0.9,1.2 2,0 3.5,0 C5,0 6.1,1.2 6.1,3.2 L6.1,7.8 C6.1,9.8 5,11 3.5,11 C2,11 0.9,9.8 0.9,7.8 Z"/><path transform="translate(15.00,0)" d="M6,0.2 L1.5,0.2 L1,5 C1.7,4.4 2.6,4.1 3.5,4.1 C5.2,4.1 6.3,5.4 6.3,7.5 C6.3,9.7 5.1,11 3.4,11 C2.1,11 1.1,10.4 0.6,9.3"/><path transform="translate(23.00,0)" d="M4.6,11 L4.6,0 L0.3,6.9 L6.7,6.9"/></g>
<g role="img" aria-label="1064" transform="translate(625.64,177.78) scale(1.0152,0.9667)"><title>1064</title><path transform="translate(-0.25,0)" d="M1.4,2.3 L3.5,0 L3.5,11 M1.8,11 L5.2,11"/><path transform="translate(7.00,0)" d="M0.9,3.2 C0.9,1.2 2,0 3.5,0 C5,0 6.1,1.2 6.1,3.2 L6.1,7.8 C6.1,9.8 5,11 3.5,11 C2,11 0.9,9.8 0.9,7.8 Z"/><path transform="translate(15.00,0)" d="M5.8,1.5 C5.3,0.5 4.5,0 3.6,0 C1.8,0 0.8,2.3 0.8,5.8 C0.8,9.2 1.9,11 3.6,11 C5.3,11 6.3,9.6 6.3,7.6 C6.3,5.6 5.2,4.4 3.6,4.4 C2.2,4.4 1.2,5.3 0.8,6.6"/><path transform="translate(23.00,0)" d="M4.6,11 L4.6,0 L0.3,6.9 L6.7,6.9"/></g>
<g role="img" aria-label="1074" transform="translate(715.94,172.50) scale(1.0152,1.0000)"><title>1074</title><path transform="translate(-0.25,0)" d="M1.4,2.3 L3.5,0 L3.5,11 M1.8,11 L5.2,11"/><path transform="translate(7.00,0)" d="M0.9,3.2 C0.9,1.2 2,0 3.5,0 C5,0 6.1,1.2 6.1,3.2 L6.1,7.8 C6.1,9.8 5,11 3.5,11 C2,11 0.9,9.8 0.9,7.8 Z"/><path transform="translate(15.00,0)" d="M0.7,0.3 L6.3,0.3 L2.3,11"/><path transform="translate(23.00,0)" d="M4.6,11 L4.6,0 L0.3,6.9 L6.7,6.9"/></g>
<g role="img" aria-label="1402" transform="translate(3.52,185.07) scale(1.0423,0.9500)"><title>1402</title><path transform="translate(-0.25,0)" d="M1.4,2.3 L3.5,0 L3.5,11 M1.8,11 L5.2,11"/><path transform="translate(7.00,0)" d="M4.6,11 L4.6,0 L0.3,6.9 L6.7,6.9"/><path transform="translate(15.00,0)" d="M0.9,3.2 C0.9,1.2 2,0 3.5,0 C5,0 6.1,1.2 6.1,3.2 L6.1,7.8 C6.1,9.8 5,11 3.5,11 C2,11 0.9,9.8 0.9,7.8 Z"/><path transform="translate(23.00,0)" d="M0.8,2.3 C1.3,0.8 2.3,0 3.6,0 C5.2,0 6.3,1.1 6.3,2.8 C6.3,4.2 5.6,5.2 4.5,6.3 L0.6,10.9 L6.7,10.9"/></g>
<g role="img" aria-label="1403" transform="translate(963.22,171.53) scale(1.0429,1.0500)"><title>1403</title><path transform="translate(-0.25,0)" d="M1.4,2.3 L3.5,0 L3.5,11 M1.8,11 L5.2,11"/><path transform="translate(7.00,0)" d="M4.6,11 L4.6,0 L0.3,6.9 L6.7,6.9"/><path transform="translate(15.00,0)" d="M0.9,3.2 C0.9,1.2 2,0 3.5,0 C5,0 6.1,1.2 6.1,3.2 L6.1,7.8 C6.1,9.8 5,11 3.5,11 C2,11 0.9,9.8 0.9,7.8 Z"/><path transform="translate(23.00,0)" d="M0.8,1.8 C1.4,0.6 2.4,0 3.5,0 C5,0 6,1 6,2.6 C6,4.2 4.9,5.2 3.2,5.2 M3.2,5.2 C5.1,5.2 6.3,6.3 6.3,8 C6.3,9.9 5.1,11 3.4,11 C2.1,11 1,10.4 0.5,9.2"/></g>
<g role="img" aria-label="1404" transform="translate(433.75,273.79) scale(1.0051,0.9750)"><title>1404</title><path transform="translate(-0.25,0)" d="M1.4,2.3 L3.5,0 L3.5,11 M1.8,11 L5.2,11"/><path transform="translate(7.00,0)" d="M4.6,11 L4.6,0 L0.3,6.9 L6.7,6.9"/><path transform="translate(15.00,0)" d="M0.9,3.2 C0.9,1.2 2,0 3.5,0 C5,0 6.1,1.2 6.1,3.2 L6.1,7.8 C6.1,9.8 5,11 3.5,11 C2,11 0.9,9.8 0.9,7.8 Z"/><path transform="translate(23.00,0)" d="M4.6,11 L4.6,0 L0.3,6.9 L6.7,6.9"/></g>
<g role="img" aria-label="1405" transform="translate(567.61,285.33) scale(1.0566,1.0667)"><title>1405</title><path transform="translate(-0.25,0)" d="M1.4,2.3 L3.5,0 L3.5,11 M1.8,11 L5.2,11"/><path transform="translate(7.00,0)" d="M4.6,11 L4.6,0 L0.3,6.9 L6.7,6.9"/><path transform="translate(15.00,0)" d="M0.9,3.2 C0.9,1.2 2,0 3.5,0 C5,0 6.1,1.2 6.1,3.2 L6.1,7.8 C6.1,9.8 5,11 3.5,11 C2,11 0.9,9.8 0.9,7.8 Z"/><path transform="translate(23.00,0)" d="M6,0.2 L1.5,0.2 L1,5 C1.7,4.4 2.6,4.1 3.5,4.1 C5.2,4.1 6.3,5.4 6.3,7.5 C6.3,9.7 5.1,11 3.4,11 C2.1,11 1.1,10.4 0.6,9.3"/></g>
<g role="img" aria-label="1407" transform="translate(543.44,312.40) scale(1.0189,1.0083)"><title>1407</title><path transform="translate(-0.25,0)" d="M1.4,2.3 L3.5,0 L3.5,11 M1.8,11 L5.2,11"/><path transform="translate(7.00,0)" d="M4.6,11 L4.6,0 L0.3,6.9 L6.7,6.9"/><path transform="translate(15.00,0)" d="M0.9,3.2 C0.9,1.2 2,0 3.5,0 C5,0 6.1,1.2 6.1,3.2 L6.1,7.8 C6.1,9.8 5,11 3.5,11 C2,11 0.9,9.8 0.9,7.8 Z"/><path transform="translate(23.00,0)" d="M0.7,0.3 L6.3,0.3 L2.3,11"/></g>
<g role="img" aria-label="1010" transform="translate(110.99,371.48) scale(0.9399,0.9583)"><title>1010</title><path transform="translate(-0.25,0)" d="M1.4,2.3 L3.5,0 L3.5,11 M1.8,11 L5.2,11"/><path transform="translate(7.00,0)" d="M0.9,3.2 C0.9,1.2 2,0 3.5,0 C5,0 6.1,1.2 6.1,3.2 L6.1,7.8 C6.1,9.8 5,11 3.5,11 C2,11 0.9,9.8 0.9,7.8 Z"/><path transform="translate(14.25,0)" d="M1.4,2.3 L3.5,0 L3.5,11 M1.8,11 L5.2,11"/><path transform="translate(21.50,0)" d="M0.9,3.2 C0.9,1.2 2,0 3.5,0 C5,0 6.1,1.2 6.1,3.2 L6.1,7.8 C6.1,9.8 5,11 3.5,11 C2,11 0.9,9.8 0.9,7.8 Z"/></g>
<g role="img" aria-label="1020" transform="translate(163.37,374.49) scale(0.9672,0.9750)"><title>1020</title><path transform="translate(-0.25,0)" d="M1.4,2.3 L3.5,0 L3.5,11 M1.8,11 L5.2,11"/><path transform="translate(7.00,0)" d="M0.9,3.2 C0.9,1.2 2,0 3.5,0 C5,0 6.1,1.2 6.1,3.2 L6.1,7.8 C6.1,9.8 5,11 3.5,11 C2,11 0.9,9.8 0.9,7.8 Z"/><path transform="translate(15.00,0)" d="M0.8,2.3 C1.3,0.8 2.3,0 3.6,0 C5.2,0 6.3,1.1 6.3,2.8 C6.3,4.2 5.6,5.2 4.5,6.3 L0.6,10.9 L6.7,10.9"/><path transform="translate(23.00,0)" d="M0.9,3.2 C0.9,1.2 2,0 3.5,0 C5,0 6.1,1.2 6.1,3.2 L6.1,7.8 C6.1,9.8 5,11 3.5,11 C2,11 0.9,9.8 0.9,7.8 Z"/></g>
<g role="img" aria-label="1001" transform="translate(6.80,391.84) scale(0.9231,0.8833)"><title>1001</title><path transform="translate(-0.25,0)" d="M1.4,2.3 L3.5,0 L3.5,11 M1.8,11 L5.2,11"/><path transform="translate(7.00,0)" d="M0.9,3.2 C0.9,1.2 2,0 3.5,0 C5,0 6.1,1.2 6.1,3.2 L6.1,7.8 C6.1,9.8 5,11 3.5,11 C2,11 0.9,9.8 0.9,7.8 Z"/><path transform="translate(15.00,0)" d="M0.9,3.2 C0.9,1.2 2,0 3.5,0 C5,0 6.1,1.2 6.1,3.2 L6.1,7.8 C6.1,9.8 5,11 3.5,11 C2,11 0.9,9.8 0.9,7.8 Z"/><path transform="translate(22.25,0)" d="M1.4,2.3 L3.5,0 L3.5,11 M1.8,11 L5.2,11"/></g>
<g role="img" aria-label="1030" transform="translate(231.85,405.29) scale(0.9948,0.9750)"><title>1030</title><path transform="translate(-0.25,0)" d="M1.4,2.3 L3.5,0 L3.5,11 M1.8,11 L5.2,11"/><path transform="translate(7.00,0)" d="M0.9,3.2 C0.9,1.2 2,0 3.5,0 C5,0 6.1,1.2 6.1,3.2 L6.1,7.8 C6.1,9.8 5,11 3.5,11 C2,11 0.9,9.8 0.9,7.8 Z"/><path transform="translate(15.00,0)" d="M0.8,1.8 C1.4,0.6 2.4,0 3.5,0 C5,0 6,1 6,2.6 C6,4.2 4.9,5.2 3.2,5.2 M3.2,5.2 C5.1,5.2 6.3,6.3 6.3,8 C6.3,9.9 5.1,11 3.4,11 C2.1,11 1,10.4 0.5,9.2"/><path transform="translate(23.00,0)" d="M0.9,3.2 C0.9,1.2 2,0 3.5,0 C5,0 6.1,1.2 6.1,3.2 L6.1,7.8 C6.1,9.8 5,11 3.5,11 C2,11 0.9,9.8 0.9,7.8 Z"/></g>
<g role="img" aria-label="1040" transform="translate(351.26,392.48) scale(0.9810,0.9583)"><title>1040</title><path transform="translate(-0.25,0)" d="M1.4,2.3 L3.5,0 L3.5,11 M1.8,11 L5.2,11"/><path transform="translate(7.00,0)" d="M0.9,3.2 C0.9,1.2 2,0 3.5,0 C5,0 6.1,1.2 6.1,3.2 L6.1,7.8 C6.1,9.8 5,11 3.5,11 C2,11 0.9,9.8 0.9,7.8 Z"/><path transform="translate(15.00,0)" d="M4.6,11 L4.6,0 L0.3,6.9 L6.7,6.9"/><path transform="translate(23.00,0)" d="M0.9,3.2 C0.9,1.2 2,0 3.5,0 C5,0 6.1,1.2 6.1,3.2 L6.1,7.8 C6.1,9.8 5,11 3.5,11 C2,11 0.9,9.8 0.9,7.8 Z"/></g>
<g role="img" aria-label="1050" transform="translate(386.35,369.38) scale(1.0017,0.9583)"><title>1050</title><path transform="translate(-0.25,0)" d="M1.4,2.3 L3.5,0 L3.5,11 M1.8,11 L5.2,11"/><path transform="translate(7.00,0)" d="M0.9,3.2 C0.9,1.2 2,0 3.5,0 C5,0 6.1,1.2 6.1,3.2 L6.1,7.8 C6.1,9.8 5,11 3.5,11 C2,11 0.9,9.8 0.9,7.8 Z"/><path transform="translate(15.00,0)" d="M6,0.2 L1.5,0.2 L1,5 C1.7,4.4 2.6,4.1 3.5,4.1 C5.2,4.1 6.3,5.4 6.3,7.5 C6.3,9.7 5.1,11 3.4,11 C2.1,11 1.1,10.4 0.6,9.3"/><path transform="translate(23.00,0)" d="M0.9,3.2 C0.9,1.2 2,0 3.5,0 C5,0 6.1,1.2 6.1,3.2 L6.1,7.8 C6.1,9.8 5,11 3.5,11 C2,11 0.9,9.8 0.9,7.8 Z"/></g>
<g role="img" aria-label="1401" transform="translate(439.35,377.28) scale(1.0000,0.9583)"><title>1401</title><path transform="translate(-0.25,0)" d="M1.4,2.3 L3.5,0 L3.5,11 M1.8,11 L5.2,11"/><path transform="translate(7.00,0)" d="M4.6,11 L4.6,0 L0.3,6.9 L6.7,6.9"/><path transform="translate(15.00,0)" d="M0.9,3.2 C0.9,1.2 2,0 3.5,0 C5,0 6.1,1.2 6.1,3.2 L6.1,7.8 C6.1,9.8 5,11 3.5,11 C2,11 0.9,9.8 0.9,7.8 Z"/><path transform="translate(22.25,0)" d="M1.4,2.3 L3.5,0 L3.5,11 M1.8,11 L5.2,11"/></g>
<g role="img" aria-label="1400" transform="translate(559.65,424.48) scale(0.9948,0.9667)"><title>1400</title><path transform="translate(-0.25,0)" d="M1.4,2.3 L3.5,0 L3.5,11 M1.8,11 L5.2,11"/><path transform="translate(7.00,0)" d="M4.6,11 L4.6,0 L0.3,6.9 L6.7,6.9"/><path transform="translate(15.00,0)" d="M0.9,3.2 C0.9,1.2 2,0 3.5,0 C5,0 6.1,1.2 6.1,3.2 L6.1,7.8 C6.1,9.8 5,11 3.5,11 C2,11 0.9,9.8 0.9,7.8 Z"/><path transform="translate(23.00,0)" d="M0.9,3.2 C0.9,1.2 2,0 3.5,0 C5,0 6.1,1.2 6.1,3.2 L6.1,7.8 C6.1,9.8 5,11 3.5,11 C2,11 0.9,9.8 0.9,7.8 Z"/></g>
<g role="img" aria-label="1060" transform="translate(630.85,354.05) scale(1.0017,0.9083)"><title>1060</title><path transform="translate(-0.25,0)" d="M1.4,2.3 L3.5,0 L3.5,11 M1.8,11 L5.2,11"/><path transform="translate(7.00,0)" d="M0.9,3.2 C0.9,1.2 2,0 3.5,0 C5,0 6.1,1.2 6.1,3.2 L6.1,7.8 C6.1,9.8 5,11 3.5,11 C2,11 0.9,9.8 0.9,7.8 Z"/><path transform="translate(15.00,0)" d="M5.8,1.5 C5.3,0.5 4.5,0 3.6,0 C1.8,0 0.8,2.3 0.8,5.8 C0.8,9.2 1.9,11 3.6,11 C5.3,11 6.3,9.6 6.3,7.6 C6.3,5.6 5.2,4.4 3.6,4.4 C2.2,4.4 1.2,5.3 0.8,6.6"/><path transform="translate(23.00,0)" d="M0.9,3.2 C0.9,1.2 2,0 3.5,0 C5,0 6.1,1.2 6.1,3.2 L6.1,7.8 C6.1,9.8 5,11 3.5,11 C2,11 0.9,9.8 0.9,7.8 Z"/></g>
<g role="img" aria-label="1070" transform="translate(703.36,368.37) scale(0.9810,0.9417)"><title>1070</title><path transform="translate(-0.25,0)" d="M1.4,2.3 L3.5,0 L3.5,11 M1.8,11 L5.2,11"/><path transform="translate(7.00,0)" d="M0.9,3.2 C0.9,1.2 2,0 3.5,0 C5,0 6.1,1.2 6.1,3.2 L6.1,7.8 C6.1,9.8 5,11 3.5,11 C2,11 0.9,9.8 0.9,7.8 Z"/><path transform="translate(15.00,0)" d="M0.7,0.3 L6.3,0.3 L2.3,11"/><path transform="translate(23.00,0)" d="M0.9,3.2 C0.9,1.2 2,0 3.5,0 C5,0 6.1,1.2 6.1,3.2 L6.1,7.8 C6.1,9.8 5,11 3.5,11 C2,11 0.9,9.8 0.9,7.8 Z"/></g>
<g role="img" aria-label="1002" transform="translate(961.96,390.96) scale(0.9780,0.9250)"><title>1002</title><path transform="translate(-0.25,0)" d="M1.4,2.3 L3.5,0 L3.5,11 M1.8,11 L5.2,11"/><path transform="translate(7.00,0)" d="M0.9,3.2 C0.9,1.2 2,0 3.5,0 C5,0 6.1,1.2 6.1,3.2 L6.1,7.8 C6.1,9.8 5,11 3.5,11 C2,11 0.9,9.8 0.9,7.8 Z"/><path transform="translate(15.00,0)" d="M0.9,3.2 C0.9,1.2 2,0 3.5,0 C5,0 6.1,1.2 6.1,3.2 L6.1,7.8 C6.1,9.8 5,11 3.5,11 C2,11 0.9,9.8 0.9,7.8 Z"/><path transform="translate(23.00,0)" d="M0.8,2.3 C1.3,0.8 2.3,0 3.6,0 C5.2,0 6.3,1.1 6.3,2.8 C6.3,4.2 5.6,5.2 4.5,6.3 L0.6,10.9 L6.7,10.9"/></g>
<g role="img" aria-label="1100" transform="translate(163.21,422.79) scale(0.9107,0.9750)"><title>1100</title><path transform="translate(-0.25,0)" d="M1.4,2.3 L3.5,0 L3.5,11 M1.8,11 L5.2,11"/><path transform="translate(6.25,0)" d="M1.4,2.3 L3.5,0 L3.5,11 M1.8,11 L5.2,11"/><path transform="translate(13.50,0)" d="M0.9,3.2 C0.9,1.2 2,0 3.5,0 C5,0 6.1,1.2 6.1,3.2 L6.1,7.8 C6.1,9.8 5,11 3.5,11 C2,11 0.9,9.8 0.9,7.8 Z"/><path transform="translate(21.50,0)" d="M0.9,3.2 C0.9,1.2 2,0 3.5,0 C5,0 6.1,1.2 6.1,3.2 L6.1,7.8 C6.1,9.8 5,11 3.5,11 C2,11 0.9,9.8 0.9,7.8 Z"/></g>
<g role="img" aria-label="1200" transform="translate(295.66,422.79) scale(0.9914,0.9750)"><title>1200</title><path transform="translate(-0.25,0)" d="M1.4,2.3 L3.5,0 L3.5,11 M1.8,11 L5.2,11"/><path transform="translate(7.00,0)" d="M0.8,2.3 C1.3,0.8 2.3,0 3.6,0 C5.2,0 6.3,1.1 6.3,2.8 C6.3,4.2 5.6,5.2 4.5,6.3 L0.6,10.9 L6.7,10.9"/><path transform="translate(15.00,0)" d="M0.9,3.2 C0.9,1.2 2,0 3.5,0 C5,0 6.1,1.2 6.1,3.2 L6.1,7.8 C6.1,9.8 5,11 3.5,11 C2,11 0.9,9.8 0.9,7.8 Z"/><path transform="translate(23.00,0)" d="M0.9,3.2 C0.9,1.2 2,0 3.5,0 C5,0 6.1,1.2 6.1,3.2 L6.1,7.8 C6.1,9.8 5,11 3.5,11 C2,11 0.9,9.8 0.9,7.8 Z"/></g>
<g role="img" aria-label="1300" transform="translate(395.66,422.77) scale(0.9914,0.9333)"><title>1300</title><path transform="translate(-0.25,0)" d="M1.4,2.3 L3.5,0 L3.5,11 M1.8,11 L5.2,11"/><path transform="translate(7.00,0)" d="M0.8,1.8 C1.4,0.6 2.4,0 3.5,0 C5,0 6,1 6,2.6 C6,4.2 4.9,5.2 3.2,5.2 M3.2,5.2 C5.1,5.2 6.3,6.3 6.3,8 C6.3,9.9 5.1,11 3.4,11 C2.1,11 1,10.4 0.5,9.2"/><path transform="translate(15.00,0)" d="M0.9,3.2 C0.9,1.2 2,0 3.5,0 C5,0 6.1,1.2 6.1,3.2 L6.1,7.8 C6.1,9.8 5,11 3.5,11 C2,11 0.9,9.8 0.9,7.8 Z"/><path transform="translate(23.00,0)" d="M0.9,3.2 C0.9,1.2 2,0 3.5,0 C5,0 6.1,1.2 6.1,3.2 L6.1,7.8 C6.1,9.8 5,11 3.5,11 C2,11 0.9,9.8 0.9,7.8 Z"/></g>
<g role="img" aria-label="1500" transform="translate(701.75,424.87) scale(0.9948,0.9333)"><title>1500</title><path transform="translate(-0.25,0)" d="M1.4,2.3 L3.5,0 L3.5,11 M1.8,11 L5.2,11"/><path transform="translate(7.00,0)" d="M6,0.2 L1.5,0.2 L1,5 C1.7,4.4 2.6,4.1 3.5,4.1 C5.2,4.1 6.3,5.4 6.3,7.5 C6.3,9.7 5.1,11 3.4,11 C2.1,11 1.1,10.4 0.6,9.3"/><path transform="translate(15.00,0)" d="M0.9,3.2 C0.9,1.2 2,0 3.5,0 C5,0 6.1,1.2 6.1,3.2 L6.1,7.8 C6.1,9.8 5,11 3.5,11 C2,11 0.9,9.8 0.9,7.8 Z"/><path transform="translate(23.00,0)" d="M0.9,3.2 C0.9,1.2 2,0 3.5,0 C5,0 6.1,1.2 6.1,3.2 L6.1,7.8 C6.1,9.8 5,11 3.5,11 C2,11 0.9,9.8 0.9,7.8 Z"/></g>
<g role="img" aria-label="2000" transform="translate(217.90,457.79) scale(0.9934,0.9750)"><title>2000</title><path transform="translate(0.50,0)" d="M0.8,2.3 C1.3,0.8 2.3,0 3.6,0 C5.2,0 6.3,1.1 6.3,2.8 C6.3,4.2 5.6,5.2 4.5,6.3 L0.6,10.9 L6.7,10.9"/><path transform="translate(8.50,0)" d="M0.9,3.2 C0.9,1.2 2,0 3.5,0 C5,0 6.1,1.2 6.1,3.2 L6.1,7.8 C6.1,9.8 5,11 3.5,11 C2,11 0.9,9.8 0.9,7.8 Z"/><path transform="translate(16.50,0)" d="M0.9,3.2 C0.9,1.2 2,0 3.5,0 C5,0 6.1,1.2 6.1,3.2 L6.1,7.8 C6.1,9.8 5,11 3.5,11 C2,11 0.9,9.8 0.9,7.8 Z"/><path transform="translate(24.50,0)" d="M0.9,3.2 C0.9,1.2 2,0 3.5,0 C5,0 6.1,1.2 6.1,3.2 L6.1,7.8 C6.1,9.8 5,11 3.5,11 C2,11 0.9,9.8 0.9,7.8 Z"/></g>
</g>
</svg>
</body></html>
